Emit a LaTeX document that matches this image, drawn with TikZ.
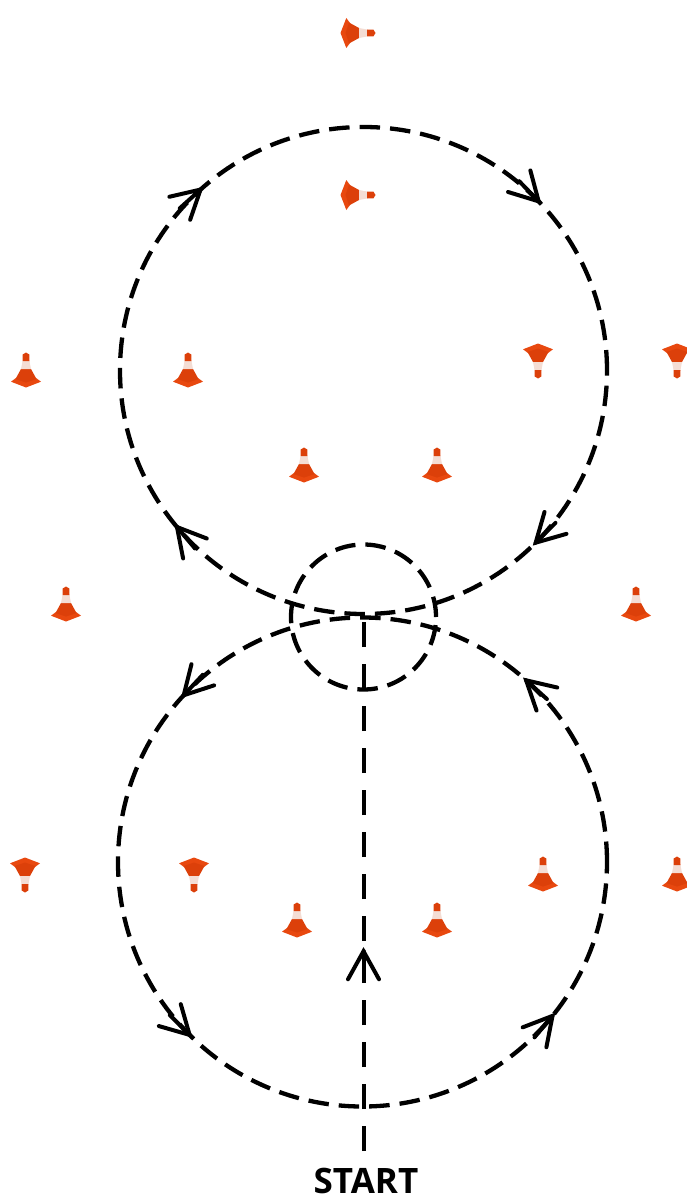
\documentclass[tikz,border=0pt]{standalone}
\usepackage{fontspec}
\setmainfont{Open Sans}
\usetikzlibrary{positioning}

\definecolor{coneorange}{HTML}{E8480F}
\definecolor{conedark}{HTML}{DC400A}
\definecolor{conewhite}{HTML}{F4DDD4}

\begin{document}
\begin{tikzpicture}[
x=1pt, y=-1pt,
ring/.style={draw=black, circle, line width=4.3pt, inner sep=0pt, outer sep=0pt, dash pattern=on 20.5pt off 10pt},
route/.style={draw=black, line width=4pt, dash pattern=on 25pt off 17pt},
label/.style={font=\bfseries\fontsize{35}{35}\selectfont, inner sep=0pt},
barb/.pic={
  \draw[black, line width=4pt, line cap=round] (-28,-15.5) -- (0,0) -- (-28,15.5);
  \draw[black, line width=4pt, line cap=round] (-28,0) -- (0,0);
},
cone/.pic={
  \fill[coneorange] (-15,11.7) -- (-10,8) -- (10,8) -- (15,11.7) -- (0,17.5) -- cycle;
  \fill[conedark] (-10.5,9) -- (-5,-1) -- (5,-1) -- (10.5,9) -- (0,12.5) -- cycle;
  \fill[conewhite] (-5,-1) -- (-3.5,-9) -- (3.5,-9) -- (5,-1) -- cycle;
  \fill[conedark] (-3.5,-9) -- (-3.3,-15.5) -- (0,-17.5) -- (3.3,-15.5) -- (3.5,-9) -- cycle;
}
]
\useasboundingbox (0,0) rectangle (687,1199);

% Circles
\node[ring, minimum size=487pt] (upper) at (363.5,370.5) {};
\node[ring, minimum size=489pt] (lower) at (362.5,862) {};
\node[ring, minimum size=145pt] (centre) at (363.5,617) {};

% Start
\node[label, anchor=north, text height=26pt, text depth=0pt, yshift=-12pt] (start) at (366,1155) {START};
\coordinate (entry) at (363.5,1151);
\draw[route] (entry) -- coordinate[pos=.372] (entryarrow) (upper.south);

% Arrows on the upper circle
\pic[rotate=-46] at (upper.44) {barb};
\pic[rotate=-135] at (upper.-45) {barb};
\pic[rotate=130] at (upper.220) {barb};
\pic[rotate=42] at (upper.132) {barb};

% Arrows on the lower circle
\pic[rotate=227] at (lower.137.5) {barb};
\pic[rotate=315] at (lower.225) {barb};
\pic[rotate=50] at (lower.-39.5) {barb};
\pic[rotate=138] at (lower.48) {barb};

% Arrow on the entry line
\pic[rotate=90] at (entryarrow) {barb};

% Cones on the centre line
\pic[rotate=-90] at (358,33) {cone};
\pic[rotate=-90] at (358,195) {cone};

% Cones, upper rows
\pic at (26,370) {cone};
\pic at (188,370) {cone};
\pic[rotate=180] at (538,361) {cone};
\pic[rotate=180] at (677,361) {cone};
\pic at (304,465) {cone};
\pic at (437,465) {cone};

% Cones, middle row
\pic at (66,604) {cone};
\pic at (636,604) {cone};

% Cones, lower rows
\pic[rotate=180] at (25,875) {cone};
\pic[rotate=180] at (194,875) {cone};
\pic at (543,874) {cone};
\pic at (677,874) {cone};
\pic at (297,920) {cone};
\pic at (437,920) {cone};

\end{tikzpicture}
\end{document}
